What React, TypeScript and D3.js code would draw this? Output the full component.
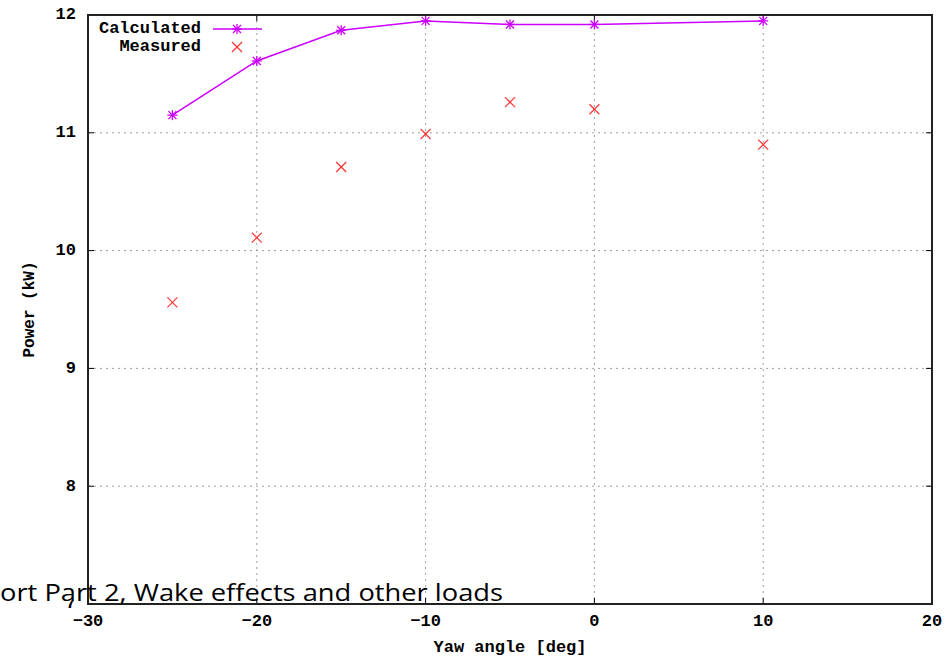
import * as d3 from "d3";

// yaw angles (deg)
const yawAngles = [-25, -20, -15, -10, -5, 0, 10];
// power (kW)
const calculated = [11.15, 11.61, 11.87, 11.95, 11.92, 11.92, 11.95];
const measured = [9.56, 10.11, 10.71, 10.99, 11.26, 11.2, 10.9];

const xTicks = [-30, -20, -10, 0, 10, 20];
const yTicks = [7, 8, 9, 10, 11, 12];

const W = 947;
const H = 657;
const margin = { top: 15, right: 15, bottom: 53, left: 88 };

const monoFont = "'Liberation Mono', 'DejaVu Sans Mono', monospace";
const calcColor = "#cc00ff";
const measColor = "#ff3333";

function Star({ x, y, c }: { x: number; y: number; c: string }) {
  const r = 5;
  return (
    <g stroke={c} strokeWidth={1.3}>
      <line x1={x - r} y1={y} x2={x + r} y2={y} />
      <line x1={x} y1={y - r} x2={x} y2={y + r} />
      <line x1={x - r * 0.8} y1={y - r * 0.8} x2={x + r * 0.8} y2={y + r * 0.8} />
      <line x1={x - r * 0.8} y1={y + r * 0.8} x2={x + r * 0.8} y2={y - r * 0.8} />
    </g>
  );
}

function Cross({ x, y, c }: { x: number; y: number; c: string }) {
  const r = 5;
  return (
    <g stroke={c} strokeWidth={1.2}>
      <line x1={x - r} y1={y - r} x2={x + r} y2={y + r} />
      <line x1={x - r} y1={y + r} x2={x + r} y2={y - r} />
    </g>
  );
}

export default function App() {
  const x = d3.scaleLinear().domain([-30, 20]).range([margin.left, W - margin.right]);
  const y = d3.scaleLinear().domain([7, 12]).range([H - margin.bottom, margin.top]);
  const x0 = x(-30), x1 = x(20), y0 = y(7), y1 = y(12);

  const line = d3
    .line<number>()
    .x((_, i) => x(yawAngles[i]))
    .y((d) => y(d));

  const gridStyle = { stroke: "#a0a0a0", strokeWidth: 1, strokeDasharray: "2,4" };
  const tickLen = 6;

  return (
    <svg
      width={W}
      height={H}
      style={{ position: "absolute", left: 0, top: 0, background: "#fff" }}
    >
      <rect x={0} y={0} width={W} height={H} fill="#fff" />
      {/* grid */}
      {xTicks.slice(1, -1).map((t) => (
        <line key={"gx" + t} x1={x(t)} x2={x(t)} y1={y1} y2={y0} {...gridStyle} />
      ))}
      {yTicks.slice(1, -1).map((t) => (
        <line key={"gy" + t} x1={x0} x2={x1} y1={y(t)} y2={y(t)} {...gridStyle} />
      ))}
      {/* ticks */}
      {xTicks.map((t) => (
        <g key={"tx" + t} stroke="#000" strokeWidth={1}>
          <line x1={x(t)} x2={x(t)} y1={y0} y2={y0 - tickLen} />
          <line x1={x(t)} x2={x(t)} y1={y1} y2={y1 + tickLen} />
        </g>
      ))}
      {yTicks.map((t) => (
        <g key={"ty" + t} stroke="#000" strokeWidth={1}>
          <line x1={x0} x2={x0 + tickLen} y1={y(t)} y2={y(t)} />
          <line x1={x1} x2={x1 - tickLen} y1={y(t)} y2={y(t)} />
        </g>
      ))}
      {/* frame */}
      <rect x={x0} y={y1} width={x1 - x0} height={y0 - y1} fill="none" stroke="#222" strokeWidth={2} />
      {/* tick labels */}
      {xTicks.map((t) => (
        <text
          key={"lx" + t}
          x={x(t)}
          y={y0 + 18}
          textAnchor="middle"
          dominantBaseline="middle"
          fontFamily={monoFont}
          fontWeight="bold"
          fontSize={17}
        >
          {t < 0 ? "\u2212" + Math.abs(t) : t}
        </text>
      ))}
      {yTicks.map((t) => (
        <text
          key={"ly" + t}
          x={x0 - 12}
          y={y(t)}
          textAnchor="end"
          dominantBaseline="middle"
          fontFamily={monoFont}
          fontWeight="bold"
          fontSize={17}
        >
          {t}
        </text>
      ))}
      {/* axis titles */}
      <text
        x={(x0 + x1) / 2}
        y={648}
        textAnchor="middle"
        dominantBaseline="middle"
        fontFamily={monoFont}
        fontWeight="bold"
        fontSize={17}
      >
        Yaw angle [deg]
      </text>
      <text
        transform={`translate(30,${(y0 + y1) / 2}) rotate(-90)`}
        textAnchor="middle"
        dominantBaseline="middle"
        fontFamily={monoFont}
        fontWeight="bold"
        fontSize={16}
      >
        Power (kW)
      </text>
      {/* series */}
      <path d={line(calculated) || ""} fill="none" stroke={calcColor} strokeWidth={1.5} />
      {calculated.map((v, i) => (
        <Star key={"c" + i} x={x(yawAngles[i])} y={y(v)} c={calcColor} />
      ))}
      {measured.map((v, i) => (
        <Cross key={"m" + i} x={x(yawAngles[i])} y={y(v)} c={measColor} />
      ))}
      {/* legend */}
      <text x={201} y={29} textAnchor="end" dominantBaseline="middle" fontFamily={monoFont} fontWeight="bold" fontSize={17}>
        Calculated
      </text>
      <line x1={213} x2={262} y1={29} y2={29} stroke={calcColor} strokeWidth={1.5} />
      <Star x={237} y={29} c={calcColor} />
      <text x={201} y={47} textAnchor="end" dominantBaseline="middle" fontFamily={monoFont} fontWeight="bold" fontSize={17}>
        Measured
      </text>
      <Cross x={237} y={47} c={measColor} />
      {/* cover top of the "7" label */}
      <rect x={55} y={580} width={26} height={20} fill="#fff" />
      {/* overlapping caption fragment */}
      <text x={0} y={601} fontFamily="'Open Sans', 'Noto Sans', sans-serif" fontSize={24} textLength={503} lengthAdjust="spacingAndGlyphs" fill="#000">
        ort Part 2, Wake effects and other loads
      </text>
    </svg>
  );
}
